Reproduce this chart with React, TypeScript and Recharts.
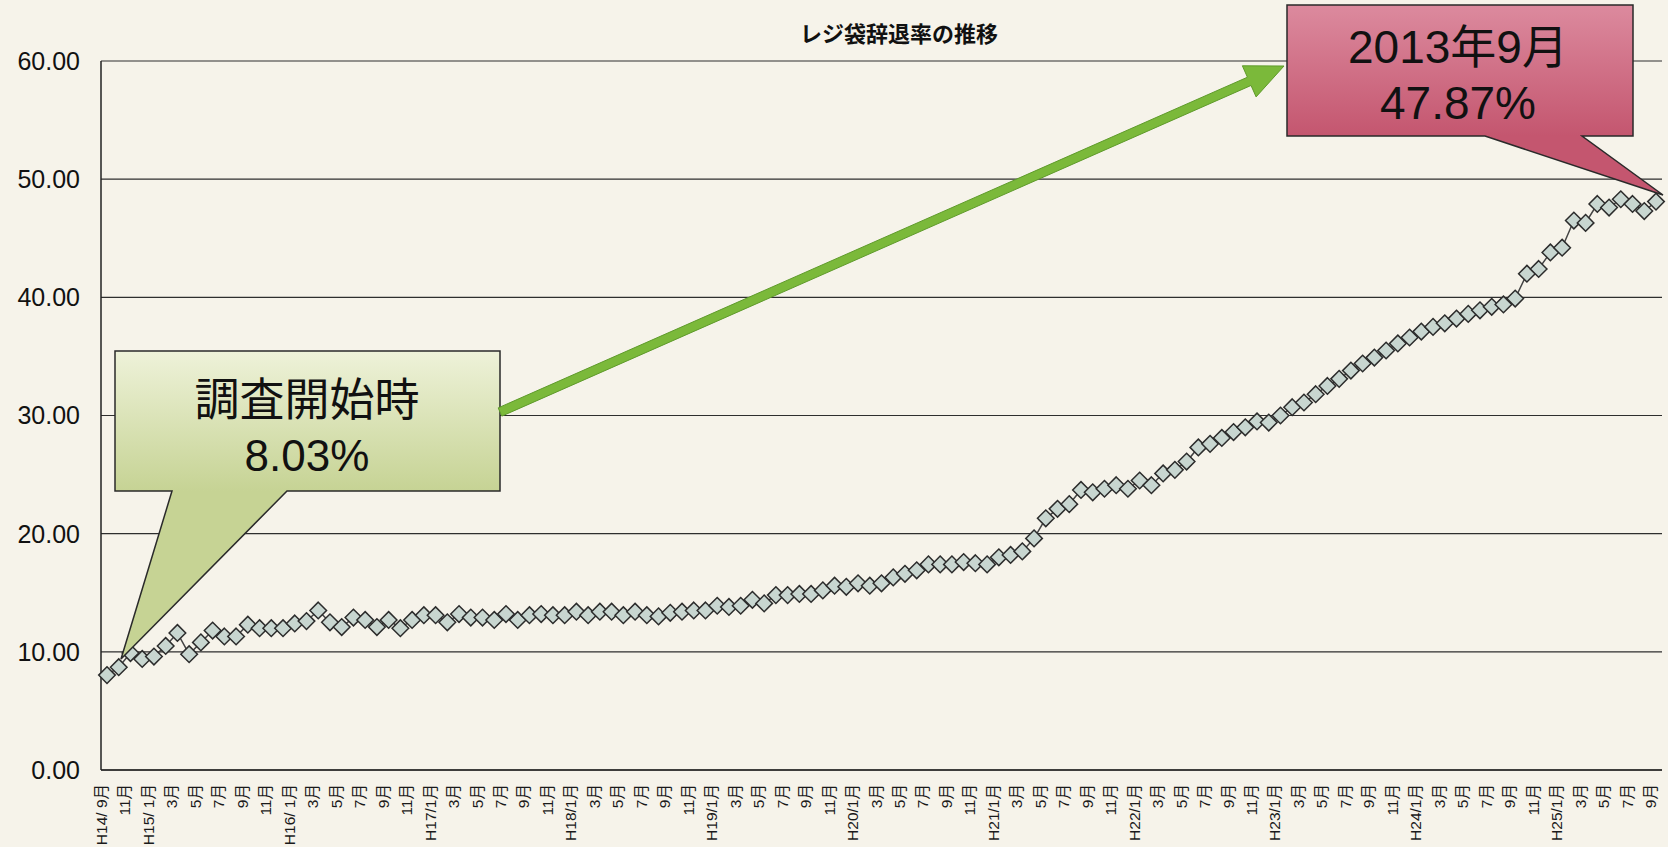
import { LineChart, Line, XAxis, YAxis, CartesianGrid } from "recharts";

// monthly series H14/9 .. H25/9
const START_YEAR = 14;
const START_MONTH = 9;

const RATES = [
  8.03, 8.7, 9.9, 9.4, 9.6, 10.5, 11.6, 9.8, 10.8, 11.8,
  11.3, 11.3, 12.3, 12.0, 12.0, 12.0, 12.4, 12.6, 13.5, 12.5,
  12.1, 12.9, 12.7, 12.1, 12.7, 12.0, 12.7, 13.1, 13.1, 12.5,
  13.2, 12.9, 12.9, 12.7, 13.2, 12.7, 13.1, 13.2, 13.1, 13.1,
  13.4, 13.1, 13.4, 13.4, 13.1, 13.4, 13.1, 13.0, 13.3, 13.4,
  13.5, 13.5, 13.9, 13.8, 13.9, 14.4, 14.1, 14.8, 14.8, 14.9,
  14.9, 15.2, 15.6, 15.5, 15.8, 15.6, 15.8, 16.3, 16.6, 16.9,
  17.4, 17.4, 17.4, 17.6, 17.5, 17.4, 18.0, 18.2, 18.5, 19.6,
  21.3, 22.1, 22.5, 23.7, 23.5, 23.8, 24.1, 23.8, 24.5, 24.1,
  25.1, 25.4, 26.1, 27.3, 27.6, 28.1, 28.6, 29.0, 29.5, 29.4,
  30.0, 30.7, 31.1, 31.8, 32.5, 33.1, 33.8, 34.4, 34.9, 35.5,
  36.1, 36.6, 37.1, 37.5, 37.8, 38.2, 38.6, 38.9, 39.2, 39.4,
  39.9, 42.0, 42.4, 43.8, 44.2, 46.5, 46.3, 47.9, 47.6, 48.3,
  47.9, 47.3, 48.1,
];

const Y_TICKS = [0, 10, 20, 30, 40, 50, 60];

const TITLE = "レジ袋辞退率の推移";
const START_NOTE = ["調査開始時", "8.03%"];
const END_NOTE = ["2013年9月", "47.87%"];

// category labels: era year on the first month and on each January
const LABELS: string[] = RATES.map((_, i) => {
  const k = START_MONTH - 1 + i;
  const m = (k % 12) + 1;
  const y = START_YEAR + Math.floor(k / 12);
  if (i === 0 || m === 1) return y <= 16 ? `H${y}/ ${m}月` : `H${y}/${m}月`;
  return `${m}月`;
});

const data = RATES.map((rate, i) => ({ i, rate }));

const W = 1668;
const H = 847;
const FONT = "'Liberation Sans', 'Noto Sans CJK JP', sans-serif";

const Diamond = (props: any) => {
  const { cx, cy, index } = props;
  if (cx == null || cy == null) return <g key={index} />;
  const r = 8.3;
  return (
    <path
      key={index}
      d={`M${cx},${cy - r}L${cx + r},${cy}L${cx},${cy + r}L${cx - r},${cy}Z`}
      fill="#c8d6d0"
      stroke="#2c2c2c"
      strokeWidth={1.5}
    />
  );
};

const MonthTick = (props: any) => {
  const { x, y, payload } = props;
  return (
    <text
      x={x}
      y={y}
      transform={`rotate(-90 ${x} ${y})`}
      textAnchor="end"
      fontSize={15.5}
      fontFamily={FONT}
      fill="#1a1a1a"
    >
      {LABELS[payload.value]}
    </text>
  );
};

function arrowPoints(sx: number, sy: number, tx: number, ty: number) {
  const dx = tx - sx;
  const dy = ty - sy;
  const len = Math.hypot(dx, dy);
  const ux = dx / len;
  const uy = dy / len;
  const nx = -uy;
  const ny = ux;
  const hw = 4.5, headL = 38, headW = 17;
  const bx = tx - ux * headL;
  const by = ty - uy * headL;
  const pts = [
    [sx - nx * hw, sy - ny * hw],
    [bx - nx * hw, by - ny * hw],
    [bx - nx * headW, by - ny * headW],
    [tx, ty],
    [bx + nx * headW, by + ny * headW],
    [bx + nx * hw, by + ny * hw],
    [sx + nx * hw, sy + ny * hw],
  ];
  return pts.map((p) => p.join(",")).join(" ");
}

function Overlay() {
  return (
    <svg
      width={W}
      height={H}
      style={{ position: "absolute", left: 0, top: 0, pointerEvents: "none" }}
    >
      <defs>
        <linearGradient id="g1" gradientUnits="userSpaceOnUse" x1="0" y1="351" x2="0" y2="491">
          <stop offset="0" stopColor="#eef2d9" />
          <stop offset="1" stopColor="#c6d394" />
        </linearGradient>
        <linearGradient id="g2" gradientUnits="userSpaceOnUse" x1="0" y1="5" x2="0" y2="136">
          <stop offset="0" stopColor="#dc8a9e" />
          <stop offset="1" stopColor="#c4566f" />
        </linearGradient>
      </defs>

      <text
        x={899}
        y={32}
        textAnchor="middle"
        dominantBaseline="central"
        fontSize={22}
        fontWeight="bold"
        fontFamily="'Noto Sans CJK JP', sans-serif"
        fill="#111"
      >
        {TITLE}
      </text>

      <path
        d="M115,351 H500 V491 H287 L121,659 L172,491 H115 Z"
        fill="url(#g1)"
        stroke="#2a2a2a"
        strokeWidth={1.5}
      />
      <text x={307} y={400} textAnchor="middle" dominantBaseline="central" fontSize={45} fontFamily={FONT} fill="#111">
        {START_NOTE[0]}
      </text>
      <text x={307} y={455} textAnchor="middle" dominantBaseline="central" fontSize={44} fontFamily={FONT} fill="#111">
        {START_NOTE[1]}
      </text>

      <polygon
        points={arrowPoints(500, 412, 1284, 66)}
        fill="#7bb93a"
        stroke="#5f9a2b"
        strokeWidth={1}
      />

      <path
        d="M1287,5 H1633 V136 H1582 L1663,195 L1485,136 H1287 Z"
        fill="url(#g2)"
        stroke="#2a2a2a"
        strokeWidth={1.5}
      />
      <text x={1458} y={47} textAnchor="middle" dominantBaseline="central" fontSize={46} fontFamily={FONT} fill="#111">
        {END_NOTE[0]}
      </text>
      <text x={1458} y={103} textAnchor="middle" dominantBaseline="central" fontSize={46} fontFamily={FONT} fill="#111">
        {END_NOTE[1]}
      </text>
    </svg>
  );
}

export default function App() {
  return (
    <div style={{ position: "relative", width: W, height: H, background: "#f6f3ea" }}>
      <style>{`body{margin:0;background:#f6f3ea}`}</style>
      <LineChart
        width={W}
        height={H}
        data={data}
        margin={{ top: 61, right: 6, left: 0, bottom: 0 }}
      >
        <CartesianGrid vertical={false} stroke="#2e2e2e" strokeWidth={1.2} />
        <XAxis
          dataKey="i"
          type="category"
          interval={1}
          height={77}
          tick={<MonthTick />}
          tickLine={false}
          tickMargin={8}
          axisLine={{ stroke: "#222", strokeWidth: 1.5 }}
          padding={{ left: 6, right: 6 }}
        />
        <YAxis
          width={101}
          domain={[0, 60]}
          ticks={Y_TICKS}
          tickFormatter={(v: number) => v.toFixed(2)}
          tickLine={false}
          tickMargin={15}
          axisLine={{ stroke: "#222", strokeWidth: 1.5 }}
          tick={{ fill: "#111", fontSize: 25, fontFamily: FONT }}
        />
        <Line
          type="linear"
          dataKey="rate"
          stroke="#444"
          strokeWidth={1.5}
          dot={<Diamond />}
          activeDot={false}
          isAnimationActive={false}
        />
      </LineChart>
      <Overlay />
    </div>
  );
}
